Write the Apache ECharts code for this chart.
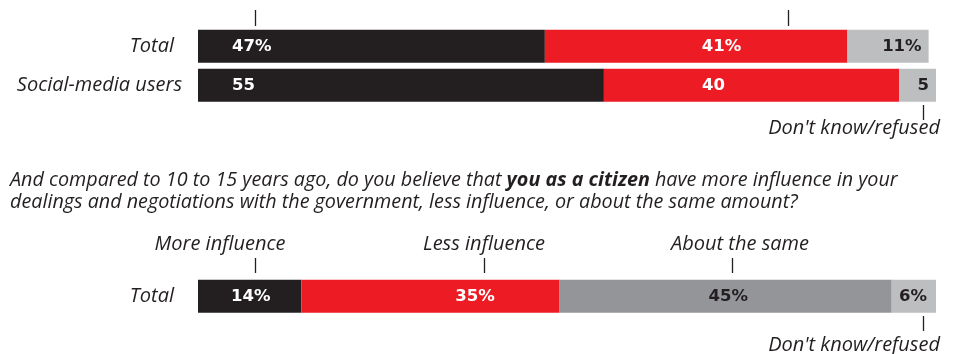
<!DOCTYPE html>
<html>
<head>
<meta charset="utf-8">
<script src="https://cdn.jsdelivr.net/npm/echarts@6/dist/echarts.min.js"></script>
<style>
html,body{margin:0;padding:0;background:#fff;}
#c{width:958px;height:354px;}
</style>
</head>
<body>
<div id="c"></div>
<script>
// ---- data ----
const topCategories = ['Total', 'Social-media users'];
const topSeriesNames = ['Yes', 'No', "Don't know/refused"];
const topBlack = [47, 55];
const topRed = [41, 40];
const topGrey = [11, 5];

const question = 'And compared to 10 to 15 years ago, do you believe that {b|you as a citizen} have more influence in your\ndealings and negotiations with the government, less influence, or about the same amount?';
const bottomCategories = ['Total'];
const bottomSeriesNames = ['More influence', 'Less influence', 'About the same', "Don't know/refused"];
const moreInfluence = [14];
const lessInfluence = [35];
const aboutSame = [45];
const dontKnow = [6];

// ---- style ----
const INK = '#231f20';
const RED = '#ed1c24';
const MID = '#939598';
const LIGHT = '#bcbec0';
const TXT = '"Open Sans", "Noto Sans", sans-serif';
const NUM = '"DejaVu Sans", sans-serif';

function fmt(p) { return p.dataIndex === 0 ? p.value + '%' : String(p.value); }

function numLabel(extra) {
  return Object.assign({
    show: true, formatter: fmt, fontFamily: NUM, fontWeight: 'bold', fontSize: 16.5,
    color: '#fff'
  }, extra);
}
function posItems(vals, offsets) {
  return vals.map((v, i) => ({ value: v, label: { position: [offsets[i], '50%'] } }));
}

const chart = echarts.init(document.getElementById('c'), null, { renderer: 'canvas' });

const catAxisLabel = {
  fontFamily: TXT, fontStyle: 'italic', fontSize: 20, color: INK, margin: 16,
  formatter: v => v === 'Total' ? '{t|' + v + '}' : '{s|' + v + '}',
  rich: {
    t: { fontFamily: TXT, fontStyle: 'italic', fontSize: 20, color: INK, padding: [0, 8, 0, 0] },
    s: { fontFamily: TXT, fontStyle: 'italic', fontSize: 20, color: INK }
  }
};

const QS = 19.75;
const option = {
  animation: false,
  backgroundColor: '#fff',
  title: {
    text: question,
    left: 10, top: 169, padding: 0,
    textStyle: {
      fontFamily: TXT, fontStyle: 'italic', fontWeight: 'normal', fontSize: QS,
      color: INK, lineHeight: 22,
      rich: {
        b: { fontFamily: TXT, fontStyle: 'italic', fontWeight: 'bold', fontSize: QS, color: INK, lineHeight: 22 }
      }
    }
  },
  grid: [
    { left: 198, width: 738, top: 26.8, height: 78 },
    { left: 198, width: 738, top: 276.8, height: 39 }
  ],
  xAxis: [
    { gridIndex: 0, type: 'value', min: 0, max: 100, show: false },
    { gridIndex: 1, type: 'value', min: 0, max: 100, show: false }
  ],
  yAxis: [
    { gridIndex: 0, type: 'category', data: topCategories, inverse: true,
      axisLine: { show: false }, axisTick: { show: false }, axisLabel: catAxisLabel },
    { gridIndex: 1, type: 'category', data: bottomCategories, inverse: true,
      axisLine: { show: false }, axisTick: { show: false }, axisLabel: catAxisLabel }
  ],
  series: [
    { name: topSeriesNames[0], type: 'bar', stack: 'top', xAxisIndex: 0, yAxisIndex: 0, barWidth: 33,
      itemStyle: { color: INK }, data: topBlack,
      label: numLabel({ position: [34, '50%'], align: 'left', verticalAlign: 'middle' }) },
    { name: topSeriesNames[1], type: 'bar', stack: 'top', xAxisIndex: 0, yAxisIndex: 0, barWidth: 33,
      itemStyle: { color: RED }, data: posItems(topRed, [157, 98]),
      label: numLabel({ align: 'left', verticalAlign: 'middle' }) },
    { name: topSeriesNames[2], type: 'bar', stack: 'top', xAxisIndex: 0, yAxisIndex: 0, barWidth: 33,
      itemStyle: { color: LIGHT }, data: topGrey,
      label: numLabel({ position: 'insideRight', distance: 7, color: INK }) },

    { name: bottomSeriesNames[0], type: 'bar', stack: 'bot', xAxisIndex: 1, yAxisIndex: 1, barWidth: 33,
      itemStyle: { color: INK }, data: moreInfluence,
      label: numLabel({ position: [33, '50%'], align: 'left', verticalAlign: 'middle' }) },
    { name: bottomSeriesNames[1], type: 'bar', stack: 'bot', xAxisIndex: 1, yAxisIndex: 1, barWidth: 33,
      itemStyle: { color: RED }, data: lessInfluence,
      label: numLabel({ position: [154, '50%'], align: 'left', verticalAlign: 'middle' }) },
    { name: bottomSeriesNames[2], type: 'bar', stack: 'bot', xAxisIndex: 1, yAxisIndex: 1, barWidth: 33,
      itemStyle: { color: MID }, data: aboutSame,
      label: numLabel({ position: [149, '50%'], align: 'left', verticalAlign: 'middle', color: INK }) },
    { name: bottomSeriesNames[3], type: 'bar', stack: 'bot', xAxisIndex: 1, yAxisIndex: 1, barWidth: 33,
      itemStyle: { color: LIGHT }, data: dontKnow,
      label: numLabel({ position: 'insideRight', distance: 9, color: INK }) }
  ]
};
chart.setOption(option);

// ---- annotations (leader ticks + labels), x positions in axis units ----
const px = (v) => chart.convertToPixel({ xAxisIndex: 0 }, v);
const g = [];
function tick(v, y1, y2) {
  const x = Math.round(px(v)) + 0.5;
  g.push({ type: 'line', silent: true, shape: { x1: x, y1: y1, x2: x, y2: y2 },
    style: { stroke: INK, lineWidth: 1.3 } });
}
function note(text, x, y, align) {
  g.push({ type: 'text', silent: true, x: x, y: y,
    style: { text: text, font: 'italic 20px ' + TXT, fill: INK, align: align, verticalAlign: 'middle' } });
}
// top chart
tick(7.7, 10, 26);
tick(79.9, 10, 26);
tick(98.2, 105, 120);
note(topSeriesNames[2], 940, 128, 'right');
// bottom chart
const btm = [
  { name: bottomSeriesNames[0], tv: 7.7, lx: 220 },
  { name: bottomSeriesNames[1], tv: 38.8, lx: 484 },
  { name: bottomSeriesNames[2], tv: 72.4, lx: 740 }
];
btm.forEach(b => { tick(b.tv, 258, 273); note(b.name, b.lx, 244, 'center'); });
tick(98.2, 316, 331);
note(bottomSeriesNames[3], 940, 345, 'right');

chart.setOption({ graphic: g });
</script>
</body>
</html>
